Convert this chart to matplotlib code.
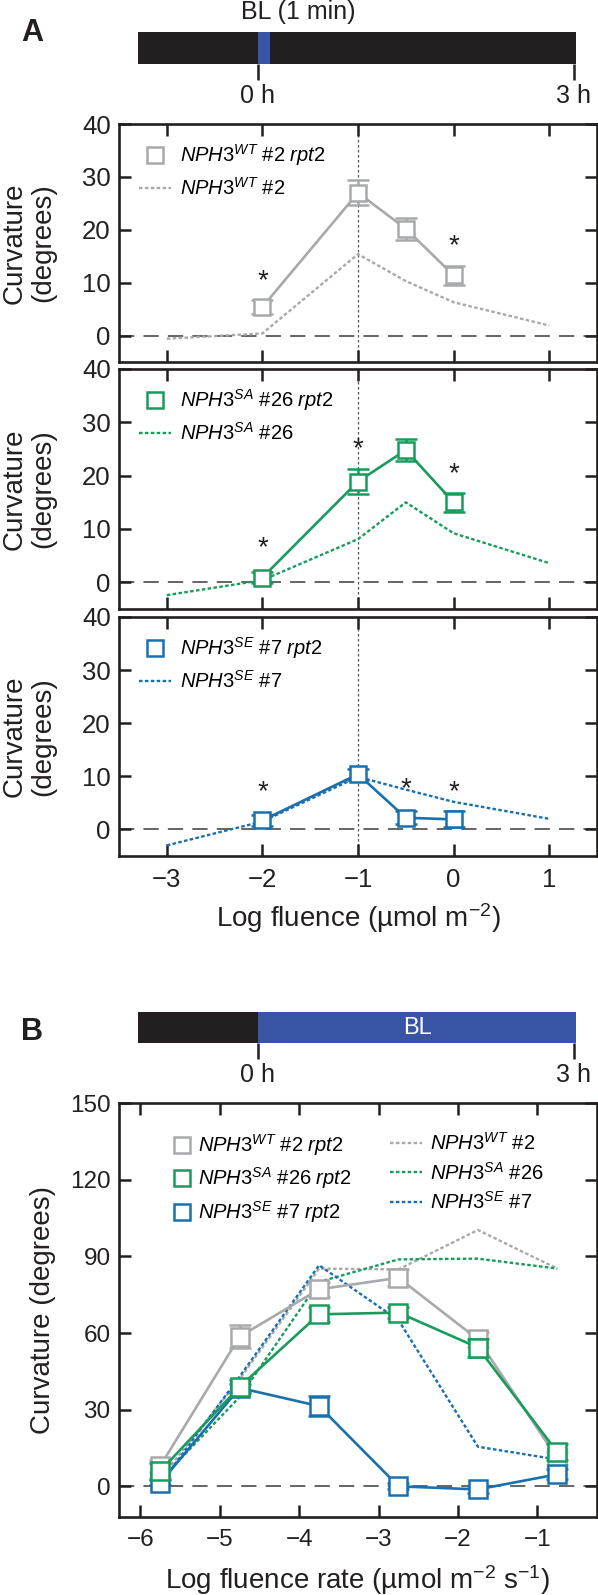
import matplotlib
matplotlib.use("Agg")
import matplotlib.pyplot as plt
from matplotlib.lines import Line2D

# ---------------- data ----------------
# Panel A (1-min BL pulse): x = log fluence
A_x_rpt2 = [-2, -1, -0.5, 0]
A_x_line = [-3, -2, -1, -0.5, 0, 1]
WT_rpt2_A = [5.4, 27.0, 20.2, 11.4]
WT_rpt2_A_err = [1.4, 2.4, 2.1, 1.8]
WT_A = [-0.6, 0.4, 15.4, 10.3, 6.3, 1.9]
SA_rpt2_A = [0.9, 18.9, 24.8, 15.0]
SA_rpt2_A_err = [1.0, 2.3, 2.0, 1.8]
SA_A = [-2.4, 0.4, 8.1, 15.0, 9.2, 3.6]
SE_rpt2_A = [1.7, 10.4, 2.2, 1.9]
SE_rpt2_A_err = [1.0, 1.0, 1.2, 1.5]
SE_A = [-3.0, 1.5, 9.9, 7.5, 5.2, 2.0]
WT_star_x = [-2, 0]
WT_star_y = [12.0, 18.6]
SA_star_x = [-2, -1, 0]
SA_star_y = [8.1, 26.7, 22.0]
SE_star_x = [-2, -0.5, 0]
SE_star_y = [8.7, 9.2, 8.7]

# Panel B (continuous BL, 3 h): x = log fluence rate
B_x = [-5.75, -4.75, -3.75, -2.75, -1.75, -0.75]
WT_rpt2_B = [8.0, 58.6, 77.1, 81.6, 57.5, 11.0]
WT_rpt2_B_err = [2.5, 4.5, 3.0, 3.4, 3.0, 2.5]
SA_rpt2_B = [6.0, 39.0, 67.3, 68.0, 54.3, 13.4]
SA_rpt2_B_err = [3.0, 2.5, 2.8, 2.0, 3.5, 3.0]
SE_rpt2_B = [1.4, 38.5, 31.4, 0.0, -1.2, 4.7]
SE_rpt2_B_err = [1.0, 1.5, 3.9, 1.2, 1.5, 2.0]
WT_B = [3.0, 42.0, 85.2, 84.9, 100.3, 85.2]
SA_B = [2.5, 35.0, 80.0, 88.8, 89.1, 85.2]
SE_B = [1.0, 43.0, 86.5, 65.0, 15.5, 10.5]

# light schedules (hours)
A_dark = (-1.14, 3.02)
A_light = (0.0, 0.115)
B_dark = (-1.14, 0.0)
B_light = (0.0, 3.02)
time_ticks = [0, 3]
time_labels = ["0 h", "3 h"]

A_xticks = [-3, -2, -1, 0, 1]
A_yticks = [0, 10, 20, 30, 40]
B_xticks = [-6, -5, -4, -3, -2, -1]
B_yticks = [0, 30, 60, 90, 120, 150]

# ---------------- style ----------------
plt.rcParams["font.family"] = ["Liberation Sans", "DejaVu Sans"]
plt.rcParams["mathtext.fontset"] = "custom"
plt.rcParams["mathtext.rm"] = "Liberation Sans"
plt.rcParams["mathtext.it"] = "Liberation Sans:italic"
plt.rcParams["mathtext.bf"] = "Liberation Sans:bold"
plt.rcParams["mathtext.sf"] = "Liberation Sans"

INK = "#231f20"
GRAY = "#a7a9ac"
GREEN = "#189c5c"
BLUE = "#1a70ae"
BARBLUE = "#3a54a5"
LEGFS = 14.5

W, H = 598, 1595
fig = plt.figure(figsize=(W / 100, H / 100), dpi=100)


def px_axes(x0, y0, x1, y1):
    return fig.add_axes([x0 / W, 1 - y1 / H, (x1 - x0) / W, (y1 - y0) / H])


def style_axes(ax, fs):
    for s in ax.spines.values():
        s.set_linewidth(1.9)
        s.set_color(INK)
    ax.tick_params(which="major", direction="in", length=8.6, width=1.8,
                   top=True, right=True, labelsize=fs, colors=INK)
    ax.tick_params(axis="x", pad=8.5)
    ax.tick_params(axis="y", pad=6)


def timeline(y0, y1, dark, light):
    ax = px_axes(138, y0, 576, y1)
    ax.barh([0], [dark[1] - dark[0]], left=[dark[0]], height=1, color=INK)
    ax.barh([0], [light[1] - light[0]], left=[light[0]], height=1, color=BARBLUE)
    ax.set_xlim(-1.139, 3.019)
    ax.set_ylim(-0.5, 0.5)
    for s in ax.spines.values():
        s.set_visible(False)
    ax.set_yticks([])
    ax.set_xticks(time_ticks)
    ax.set_xticklabels(time_labels)
    ax.tick_params(axis="x", direction="out", length=11.5, width=1.8,
                   labelsize=18, pad=3, colors=INK)
    return ax


def lab(gene, line, rpt2):
    s = r"$\mathit{NPH3}^{\mathit{%s}}$ #%s" % (gene, line)
    if rpt2:
        s += r" $\mathit{rpt2}$"
    return s


def sq_handle(c, ms=12):
    return Line2D([], [], ls="none", marker="s", ms=ms, mfc="white", mec=c, mew=1.8)


def dot_handle(c):
    return Line2D([], [], color=c, lw=1.7, dashes=(1.5, 1.0))


# ---------------- timelines ----------------
axA = timeline(32, 64, A_dark, A_light)
fig.text(298 / W, 1 - 12 / H, "BL (1 min)", ha="center", va="center", fontsize=18, color=INK)
fig.text(32 / W, 1 - 33 / H, "A", ha="center", va="center", fontsize=22, fontweight="bold", color=INK)

axB = timeline(1012, 1043, B_dark, B_light)
axB.text(1.51, 0, "BL", color="white", ha="center", va="center", fontsize=17)
fig.text(32 / W, 1 - 1032 / H, "B", ha="center", va="center", fontsize=22, fontweight="bold", color=INK)

# ---------------- panel A ----------------
panels = [
    (124, 362, WT_rpt2_A, WT_rpt2_A_err, WT_A, GRAY, "WT", "2", WT_star_x, WT_star_y),
    (369, 609, SA_rpt2_A, SA_rpt2_A_err, SA_A, GREEN, "SA", "26", SA_star_x, SA_star_y),
    (617, 856, SE_rpt2_A, SE_rpt2_A_err, SE_A, BLUE, "SE", "7", SE_star_x, SE_star_y),
]
for i, (y0, y1, m, e, dline, c, g, ln, sx, sy) in enumerate(panels):
    ax = px_axes(119, y0, 597, y1)
    style_axes(ax, 18.5)
    ax.axhline(0, color="#3a3a3a", lw=1.1, dashes=(10, 6), zorder=1)
    ax.axvline(-1, color="#555555", lw=0.9, dashes=(2, 2), zorder=1)
    ax.plot(A_x_line, dline, color=c, lw=1.7, dashes=(1.5, 1.0), zorder=2)
    ax.errorbar(A_x_rpt2, m, yerr=e, fmt="-s", color=c, lw=1.9, ms=12,
                mfc="white", mec=c, mew=1.8, ecolor=c, elinewidth=1.8,
                capsize=8, capthick=1.8, zorder=3)
    for xx, yy in zip(sx, sy):
        ax.annotate("*", (xx, yy), xytext=(0, -11.5), textcoords="offset points",
                    ha="center", va="baseline", fontsize=20, color=INK)
    ax.set_xlim(-3.5, 1.5)
    ax.set_ylim(-5, 40)
    ax.set_xticks(A_xticks)
    ax.set_yticks(A_yticks)
    if i < 2:
        ax.tick_params(axis="x", labelbottom=False)
    ax.legend([sq_handle(c), dot_handle(c)], [lab(g, ln, True), lab(g, ln, False)],
              loc="upper left", bbox_to_anchor=(0.042, 0.925), frameon=False,
              borderpad=0, borderaxespad=0, handlelength=1.6, handletextpad=0.45,
              labelspacing=0.45, fontsize=LEGFS)
    fig.text(29 / W, 1 - (y0 + y1) / 2 / H, "Curvature\n(degrees)", rotation=90,
             ha="center", va="center", fontsize=20, linespacing=1.1, color=INK)

fig.text(358 / W, 1 - 918 / H, r"Log fluence (µmol m$^{-2}$)", ha="center", va="center",
         fontsize=20, color=INK)

# ---------------- panel B ----------------
ax = px_axes(119, 1103, 597, 1517)
style_axes(ax, 17.5)
ax.axhline(0, color="#3a3a3a", lw=1.1, dashes=(10, 6), zorder=1)
for dl, c in [(WT_B, GRAY), (SA_B, GREEN), (SE_B, BLUE)]:
    ax.plot(B_x, dl, color=c, lw=1.7, dashes=(1.5, 1.0), zorder=2)
for m, e, c, z in [(WT_rpt2_B, WT_rpt2_B_err, GRAY, 3), (SE_rpt2_B, SE_rpt2_B_err, BLUE, 4),
                   (SA_rpt2_B, SA_rpt2_B_err, GREEN, 5)]:
    ax.errorbar(B_x, m, yerr=e, fmt="-s", color=c, lw=1.9, ms=12.5,
                mfc="white", mec=c, mew=1.8, ecolor=c, elinewidth=1.8,
                capsize=8, capthick=1.8, zorder=z)
ax.set_xlim(-6.27, -0.25)
ax.set_ylim(-12, 150)
ax.set_xticks(B_xticks)
ax.set_yticks(B_yticks)
leg1 = ax.legend([sq_handle(GRAY), sq_handle(GREEN), sq_handle(BLUE)],
                 [lab("WT", "2", True), lab("SA", "26", True), lab("SE", "7", True)],
                 loc="upper left", bbox_to_anchor=(0.111, 0.93), frameon=False,
                 borderpad=0, borderaxespad=0, handlelength=1.0, handletextpad=0.3,
                 labelspacing=0.38, fontsize=LEGFS)
ax.add_artist(leg1)
ax.legend([dot_handle(GRAY), dot_handle(GREEN), dot_handle(BLUE)],
          [lab("WT", "2", False), lab("SA", "26", False), lab("SE", "7", False)],
          loc="upper left", bbox_to_anchor=(0.567, 0.93), frameon=False,
          borderpad=0, borderaxespad=0, handlelength=1.6, handletextpad=0.4,
          labelspacing=0.38, fontsize=LEGFS)
fig.text(43 / W, 1 - 1310 / H, "Curvature (degrees)", rotation=90,
         ha="center", va="center", fontsize=20, color=INK)
fig.text(358 / W, 1 - 1580 / H, r"Log fluence rate (µmol m$^{-2}$ s$^{-1}$)",
         ha="center", va="center", fontsize=20, color=INK)

fig.savefig("out.png", dpi=100)
